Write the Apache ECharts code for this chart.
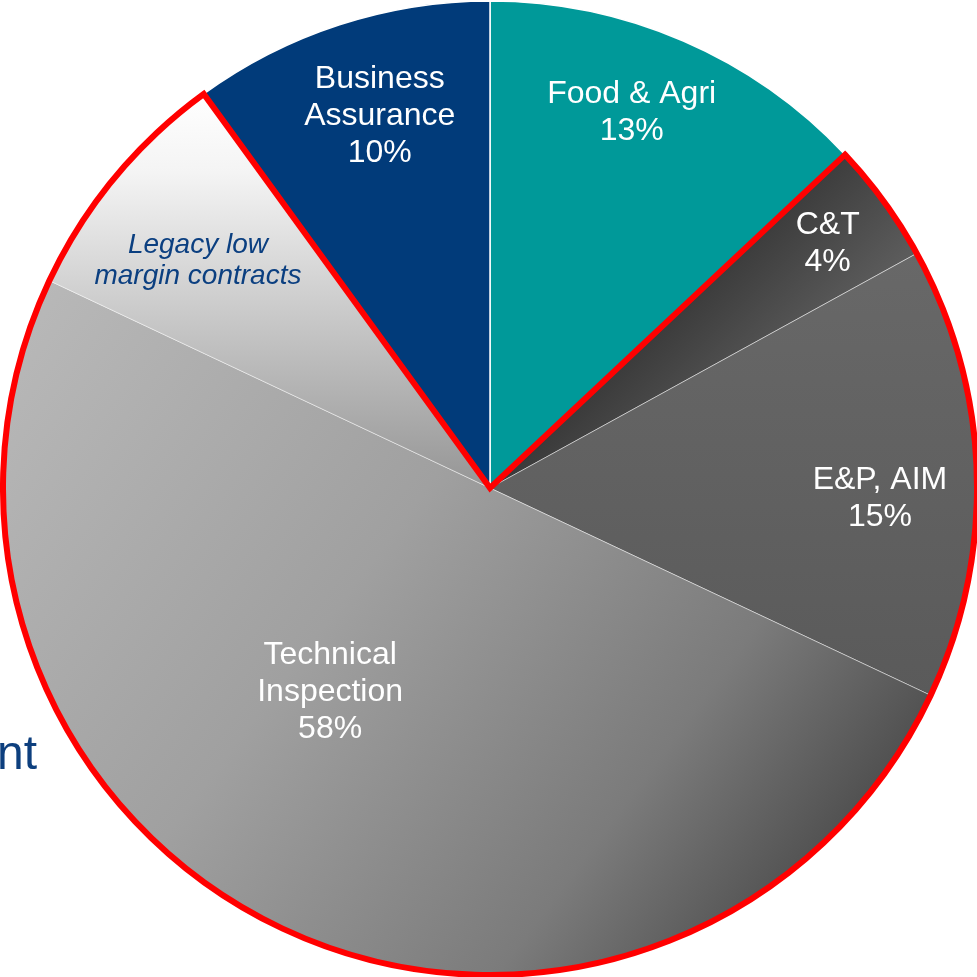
<!DOCTYPE html>
<html>
<head>
<meta charset="utf-8">
<script src="https://cdn.jsdelivr.net/npm/echarts@6/dist/echarts.min.js"></script>
<style>
  html, body { margin: 0; padding: 0; background: #ffffff; }
  #chart { width: 977px; height: 977px; }
</style>
</head>
<body>
<div id="chart"></div>
<script>
// Revenue split by division (percent of total)
const divisions = ['Food & Agri', 'C&T', 'E&P, AIM', 'Technical\nInspection', 'Business\nAssurance'];
const divisionShare = [13, 4, 15, 58, 10];

// Part of Technical Inspection carved out as its own wedge
const legacyName = 'Legacy low\nmargin contracts';
const legacyShare = 8;

// Divisions inside the highlighted (red outlined) group
const highlighted = ['C&T', 'E&P, AIM', 'Technical\nInspection'];

// Pie geometry
const PIE_CX = 490, PIE_CY = 488, PIE_R = 487;
const FONT = "'Liberation Sans', Arial, Helvetica, sans-serif";

// Fills
const fills = {
  'Food & Agri': '#009999',
  'C&T': { type: 'linear', x: 740, y: 240, x2: 860, y2: 360, global: true,
           colorStops: [{ offset: 0, color: '#3a3a3a' }, { offset: 1, color: '#666666' }] },
  'E&P, AIM': { type: 'linear', x: 0, y: 0, x2: 0, y2: 1,
           colorStops: [{ offset: 0, color: '#686868' }, { offset: 1, color: '#5a5a5a' }] },
  'Technical\nInspection': { type: 'linear', x: 0, y: 0, x2: 1, y2: 1,
           colorStops: [{ offset: 0, color: '#bababa' }, { offset: 0.4, color: '#a0a0a0' },
                        { offset: 0.7, color: '#7b7b7b' }, { offset: 1, color: '#2e2e2e' }] },
  'Legacy': { type: 'linear', x: 0, y: 0, x2: 0, y2: 1,
           colorStops: [{ offset: 0, color: '#ffffff' }, { offset: 0.2, color: '#f4f4f4' }, { offset: 1, color: '#959595' }] },
  'Business\nAssurance': '#013b7a'
};

// Label anchors: angle clockwise from 12 o'clock (deg), distance as fraction of radius
const labelAnchor = {
  'Food & Agri': [20.7, 0.823],
  'C&T': [54.1, 0.856],
  'E&P, AIM': [91.6, 0.801],
  'Technical\nInspection': [218.1, 0.532],
  'Legacy': [307.9, 0.76],
  'Business\nAssurance': [343.5, 0.797]
};

// Build the wedges in drawing order, clockwise from 12 o'clock
const slices = [];
divisions.forEach((name, i) => {
  const isTI = name === 'Technical\nInspection';
  const isDark = fills[name] && typeof fills[name] !== 'string';
  slices.push({
    name: name,
    value: isTI ? divisionShare[i] - legacyShare : divisionShare[i],
    shown: divisionShare[i],
    key: name,
    itemStyle: {
      color: fills[name],
      borderColor: isDark ? 'rgba(255,255,255,0.45)' : '#ffffff',
      borderWidth: isDark ? 1 : 1.5
    },
    label: {
      color: '#ffffff', fontSize: 32, lineHeight: 37, fontFamily: FONT
    }
  });
  if (isTI) {
    slices.push({
      name: legacyName,
      value: legacyShare,
      shown: null,
      key: 'Legacy',
      itemStyle: { color: fills['Legacy'], borderColor: 'rgba(255,255,255,0.45)', borderWidth: 1 },
      label: {
        color: '#0b3f80', fontSize: 28, lineHeight: 31, fontStyle: 'italic', fontFamily: FONT
      }
    });
  }
});

// Outline ring data: everything before, inside and after the highlighted group
const before = [], inside = [], after = [];
let seen = false;
slices.forEach(s => {
  const baseName = s.key === 'Legacy' ? 'Technical\nInspection' : s.name;
  if (highlighted.includes(baseName)) { inside.push(s.value); seen = true; }
  else if (!seen) before.push(s.value);
  else after.push(s.value);
});
const sum = a => a.reduce((p, c) => p + c, 0);
const outlineData = [
  { value: sum(before), itemStyle: { color: 'rgba(0,0,0,0)', borderWidth: 0 } },
  { value: sum(inside), itemStyle: { color: 'rgba(0,0,0,0)', borderColor: '#ff0000', borderWidth: 6, borderJoin: 'miter' } },
  { value: sum(after), itemStyle: { color: 'rgba(0,0,0,0)', borderWidth: 0 } }
];

const chart = echarts.init(document.getElementById('chart'), null, { renderer: 'canvas' });

chart.setOption({
  animation: false,
  backgroundColor: '#ffffff',
  graphic: [{
    type: 'text',
    style: {
      x: 37, y: 780,
      text: 'nt',
      fill: '#0d3f7e',
      font: '48px ' + FONT,
      textAlign: 'right',
      textVerticalAlign: 'bottom'
    },
    z: 0
  }],
  series: [
    {
      type: 'pie',
      center: [PIE_CX, PIE_CY],
      radius: [0, PIE_R],
      startAngle: 90,
      clockwise: true,
      avoidLabelOverlap: false,
      silent: true,
      label: {
        show: true,
        position: 'inside',
        formatter: p => {
          const d = slices[p.dataIndex];
          return d.shown == null ? d.name : d.name + '\n' + d.shown + '%';
        }
      },
      labelLine: { show: false },
      labelLayout: params => {
        const d = slices[params.dataIndex];
        const [ang, frac] = labelAnchor[d.key];
        const a = ang * Math.PI / 180;
        return {
          x: PIE_CX + frac * PIE_R * Math.sin(a),
          y: PIE_CY - frac * PIE_R * Math.cos(a),
          align: 'center',
          verticalAlign: 'middle'
        };
      },
      data: slices
    },
    {
      type: 'pie',
      center: [PIE_CX, PIE_CY],
      radius: [0, PIE_R],
      startAngle: 90,
      clockwise: true,
      silent: true,
      z: 5,
      label: { show: false },
      labelLine: { show: false },
      data: outlineData
    }
  ]
});
</script>
</body>
</html>
